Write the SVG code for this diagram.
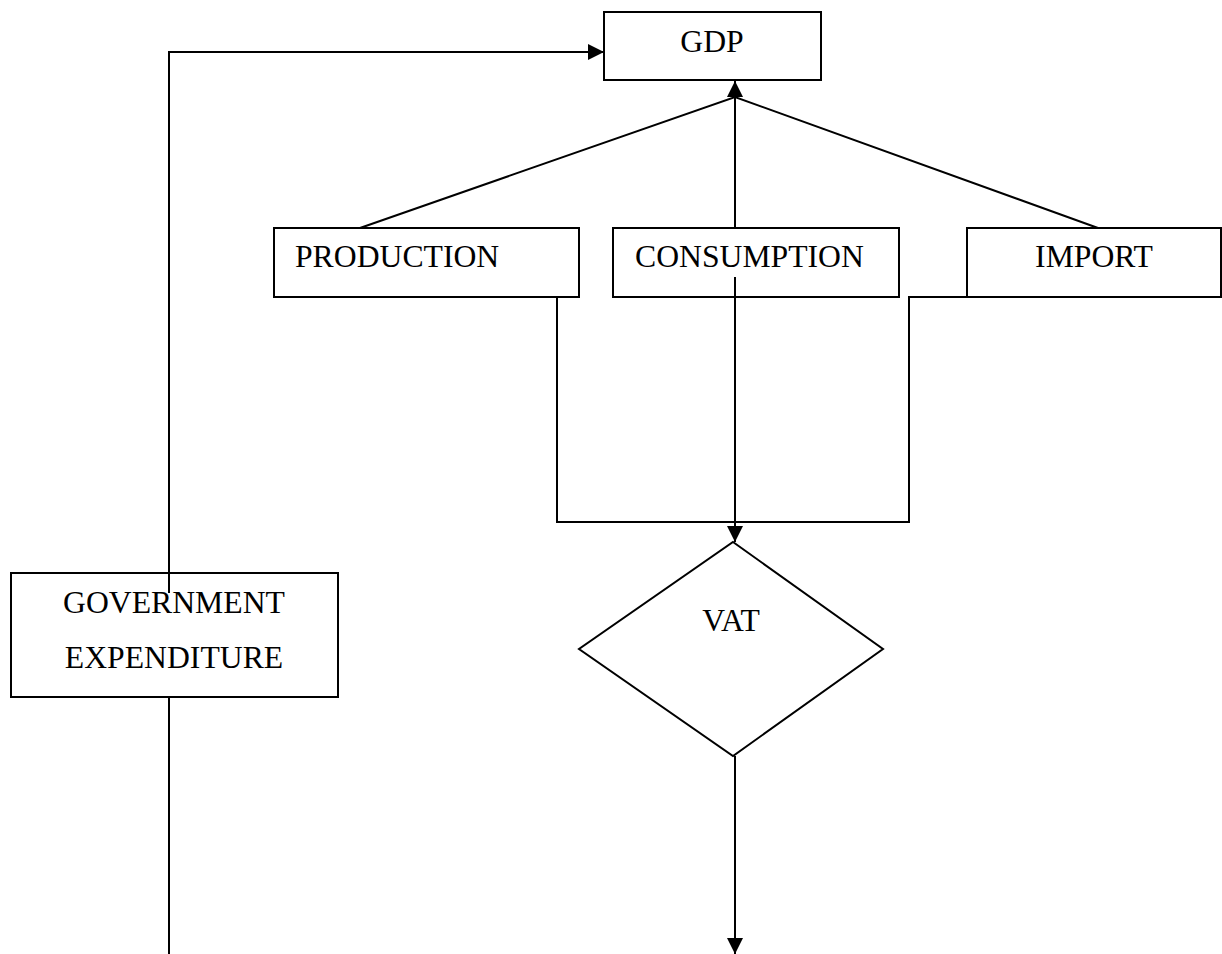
<svg xmlns="http://www.w3.org/2000/svg" width="1222" height="954" viewBox="0 0 1222 954">
<style>
.box{fill:#fff;stroke:#000;stroke-width:2}
.lbl{font-family:"Liberation Serif","Times New Roman",serif;font-size:31.7px;fill:#000}
.c{fill:none;stroke:#000;stroke-width:2}
</style>
<defs>
<marker id="arr" viewBox="0 0 16 16" refX="16" refY="8" markerWidth="16" markerHeight="16" markerUnits="userSpaceOnUse" orient="auto">
<path d="M0,0 L16,8 L0,16 Z" fill="#000"/>
</marker>
</defs>
<rect width="1222" height="954" fill="#fff"/>
<g id="gdp"><rect class="box" x="604" y="12" width="217" height="68"/><text class="lbl" x="712" y="52" text-anchor="middle">GDP</text></g>
<g id="production"><rect class="box" x="274" y="228" width="305" height="69"/><text class="lbl" x="295" y="267">PRODUCTION</text></g>
<g id="consumption"><rect class="box" x="613" y="228" width="286" height="69"/><text class="lbl" x="635" y="267">CONSUMPTION</text></g>
<g id="import"><rect class="box" x="967" y="228" width="254" height="69"/><text class="lbl" x="1094" y="267" text-anchor="middle">IMPORT</text></g>
<g id="vat"><polygon class="box" points="733,542 883,649 733,756 579,649"/><text class="lbl" x="731" y="631" text-anchor="middle">VAT</text></g>
<g id="govexp"><rect class="box" x="11" y="573" width="327" height="124"/><text class="lbl" x="174" y="613" text-anchor="middle">GOVERNMENT</text><text class="lbl" x="174" y="668" text-anchor="middle">EXPENDITURE</text></g>
<g id="connectors">
<path class="c" d="M360,228 L735,97 L1098,228"/>
<path class="c" d="M735,228 L735,81" marker-end="url(#arr)"/>
<path class="c" d="M382,297 L557,297 L557,522 L909,522 L909,297 L1083,297"/>
<path class="c" d="M735,277 L735,542" marker-end="url(#arr)"/>
<path class="c" d="M169,593 L169,52 L604,52" marker-end="url(#arr)"/>
<path class="c" d="M169,697 L169,954"/>
<path class="c" d="M735,756 L735,954" marker-end="url(#arr)"/>
</g>
</svg>
